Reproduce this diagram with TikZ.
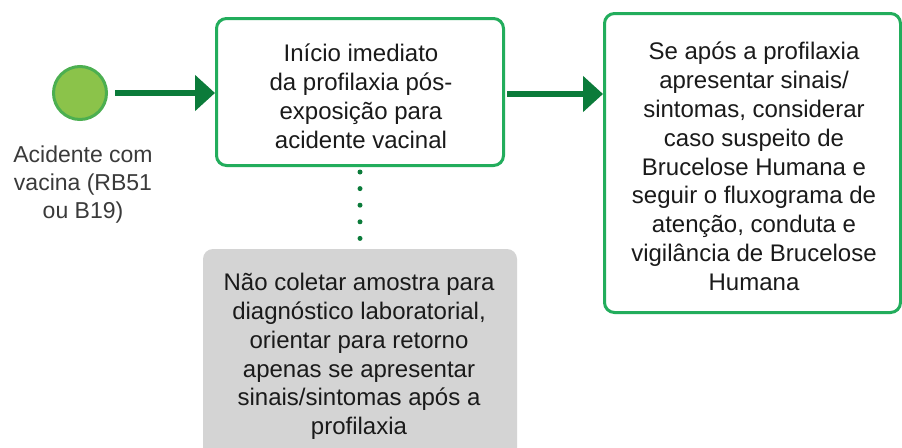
\documentclass[tikz,border=0pt]{standalone}
\usepackage{fontspec}
\setmainfont{Liberation Sans}
\usetikzlibrary{arrows.meta}
\definecolor{boxgreen}{HTML}{22AD5C}
\definecolor{arrowgreen}{HTML}{0B7B3A}
\definecolor{circfill}{HTML}{8BC34A}
\definecolor{circline}{HTML}{4CAF50}
\definecolor{graybox}{HTML}{D4D4D4}
\definecolor{txtdark}{HTML}{1A1A1A}
\definecolor{txtgray}{HTML}{3A3A3A}
\begin{document}
\begin{tikzpicture}[x=1pt,y=-1pt,
  greenbox/.style={draw=boxgreen, line width=3pt, rounded corners=10pt, fill=white, inner sep=0pt},
  boxtext/.style={align=center, inner sep=0pt, text=txtdark, font=\fontsize{24}{28.9}\selectfont},
  flowarrow/.style={draw=arrowgreen, line width=6pt, -{Triangle[length=20pt,width=35pt]}},
  dotline/.style={draw=arrowgreen, line width=5pt, line cap=round, dash pattern=on 0pt off 16.6pt}]
\clip (0,0) rectangle (902,447);
\fill[white] (0,0) rectangle (902,447);
% start event
\node[circle, draw=circline, fill=circfill, line width=3pt, minimum size=53pt, inner sep=0pt] (c) at (80,93) {};
\node[align=center, inner sep=0pt, text=txtgray, font=\fontsize{23}{28}\selectfont] (lab) at (83,184.4)
  {\strut Acidente com\\ vacina (RB51\\ \strut ou B19)};
% box 1
\node[greenbox, minimum width=287pt, minimum height=147pt] (b1) at (360,92) {};
\node[boxtext] (t1) at (361,99.3)
  {\strut Início imediato\\ da profilaxia pós-\\ exposição para\\ \strut acidente vacinal};
% box 2
\node[greenbox, minimum width=296pt, minimum height=299pt] (b2) at (752.5,163) {};
\node[boxtext] (t2) at (754,169.3)
  {\strut Se após a profilaxia\\ apresentar sinais/\\ sintomas, considerar\\ caso suspeito de\\ Brucelose Humana e\\ seguir o fluxograma de\\ atenção, conduta e\\ vigilância de Brucelose\\ \strut Humana};
% box 3
\node[fill=graybox, rounded corners=10pt, inner sep=0pt, minimum width=314pt, minimum height=230pt] (b3) at (360,364) {};
\node[boxtext] (t3) at (359,356.8)
  {\strut Não coletar amostra para\\ diagnóstico laboratorial,\\ orientar para retorno\\ apenas se apresentar\\ sinais/sintomas após a\\ \strut profilaxia};
% connectors
\draw[flowarrow, shorten <=7pt] (c.east) -- (b1.west |- c.east);
\draw[flowarrow] ([xshift=2pt]b1.east |- 0,94) coordinate (a2s) -- (b2.west |- a2s);
\draw[dotline, shorten <=5pt, shorten >=9.5pt] (b1.south) -- (b1.south |- b3.north);
\end{tikzpicture}
\end{document}
